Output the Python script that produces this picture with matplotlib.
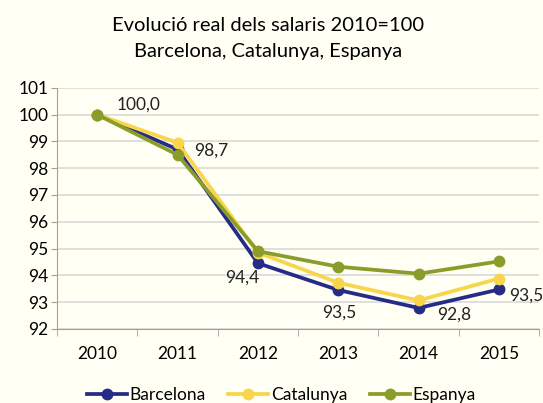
import matplotlib.pyplot as plt

years = ["2010", "2011", "2012", "2013", "2014", "2015"]
barcelona = [100.0, 98.7, 94.45, 93.45, 92.78, 93.47]
catalunya = [100.0, 98.95, 94.85, 93.72, 93.06, 93.88]
espanya = [100.0, 98.5, 94.9, 94.32, 94.06, 94.52]
bcn_labels = ["100,0", "98,7", "94,4", "93,5", "92,8", "93,5"]

plt.rcParams['font.family'] = ['Lato', 'DejaVu Sans']

bg = '#FFFFF3'
fig = plt.figure(figsize=(5.43, 4.03), dpi=100, facecolor=bg)
ax = fig.add_axes([0.105, 0.184, 0.888, 0.598], facecolor=bg)

x = list(range(len(years)))
series = [("Barcelona", barcelona, '#262B86'),
          ("Catalunya", catalunya, '#F8D54A'),
          ("Espanya", espanya, '#8A9D2B')]
for name, vals, col in series:
    ax.plot(x, vals, color=col, lw=2.7, marker='o', ms=7.5, label=name)

# data labels for Barcelona (offsets in points)
offsets = [(14, 7), (12, -1), (1, -10), (1, -16), (13, -4.5), (7, -4.5)]
aligns = ['left', 'left', 'right', 'center', 'left', 'left']
for i, lab in enumerate(bcn_labels):
    ax.annotate(lab, (x[i], barcelona[i]), xytext=offsets[i], textcoords='offset points',
                ha=aligns[i], va='center', fontsize=12.5, color='#222222')

ax.set_xlim(-0.5, len(years) - 0.5)
ax.set_ylim(92, 101)
ax.set_yticks(range(92, 102))
ax.set_xticks(x)
ax.set_xticklabels(years)
ax.set_xticks([i - 0.5 for i in range(len(years) + 1)], minor=True)
ax.tick_params(axis='x', which='major', length=0, pad=12, labelsize=12.5)
ax.tick_params(axis='x', which='minor', length=5, color='#A0A0A0')
ax.tick_params(axis='y', length=4, color='#A0A0A0', labelsize=12.5, pad=2)
ax.grid(axis='y', color='#D9D9D9', lw=1.2)
ax.set_axisbelow(True)
for s in ['top', 'right']:
    ax.spines[s].set_visible(False)
ax.spines['left'].set_color('#A0A0A0')
ax.spines['bottom'].set_color('#A0A0A0')

fig.text(0.494, 0.936, "Evolució real dels salaris 2010=100", ha='center', va='center', fontsize=14.5)
fig.text(0.494, 0.871, "Barcelona, Catalunya, Espanya", ha='center', va='center', fontsize=14.5)

fig.legend(loc='center', bbox_to_anchor=(0.518, 0.02), ncol=3, frameon=False,
           fontsize=12.5, handlelength=2.3, handletextpad=0.15, columnspacing=1.3)

fig.savefig('out.png', dpi=100, facecolor=bg)
